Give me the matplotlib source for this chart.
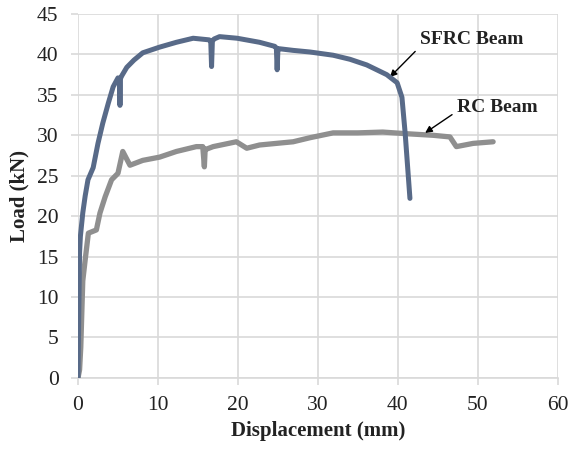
import matplotlib
matplotlib.use("Agg")
import matplotlib.pyplot as plt

plt.rcParams['font.family'] = ['Liberation Serif', 'DejaVu Serif']

sfrc_x = [0, 0.1, 0.2, 0.3, 0.6, 0.9, 1.25, 1.9, 2.5, 3.1, 3.8, 4.4, 5.0, 5.2, 5.25, 5.3, 5.5, 6.1, 7.0, 8.1, 10.2, 12.3, 14.4,
          16.4, 16.6, 16.7, 16.8, 17.0, 17.7, 19.9, 22.7, 24.6, 24.8, 24.9, 25.0, 25.2, 26.9, 29.0, 31.9, 34.0, 36.1,
          38.6, 39.9, 40.5, 40.9, 41.5]
sfrc_y = [0, 8, 15.5, 17.5, 20.4, 22.5, 24.5, 26.0, 29.0, 31.5, 34.0, 36.0, 37.1, 37.0, 33.7, 37.0, 37.4, 38.4, 39.3, 40.2, 40.9, 41.5, 42.0,
          41.8, 41.6, 38.5, 41.6, 41.9, 42.2, 42.0, 41.5, 41.0, 40.8, 38.1, 40.7, 40.7, 40.5, 40.3, 39.9, 39.4, 38.7,
          37.5, 36.5, 34.7, 30.3, 22.2]

rc_x = [0, 0.2, 0.35, 0.6, 0.9, 1.3, 2.3, 2.75, 3.4, 4.2, 5.0, 5.6, 6.5, 8.1, 10.2, 12.3, 14.8, 15.6, 15.8, 15.9, 16.1, 16.9,
        19.8, 21.1, 22.7, 26.9, 29.0, 31.9, 35.0, 38.1, 41.0, 44.4, 46.5, 47.3, 49.4, 51.9]
rc_y = [0, 1.0, 3.8, 12.0, 14.6, 17.9, 18.3, 20.4, 22.4, 24.5, 25.3, 28.0, 26.3, 26.9, 27.3, 28.0, 28.6, 28.6, 26.1, 28.3, 28.3, 28.6,
        29.2, 28.4, 28.8, 29.2, 29.7, 30.3, 30.3, 30.4, 30.2, 30.0, 29.8, 28.6, 29.0, 29.2]

x_ticks = [0, 10, 20, 30, 40, 50, 60]
y_ticks = [0, 5, 10, 15, 20, 25, 30, 35, 40, 45]

fig = plt.figure(figsize=(5.7, 4.51), dpi=100)
ax = fig.add_axes([0.1368, 0.162, 0.842, 0.807])

grid_c = '#d9d9d9'
text_c = '#222222'
ax.plot(rc_x, rc_y, color='#8f8f8f', lw=3.8, solid_joinstyle='round', solid_capstyle='round', zorder=3)
ax.plot(sfrc_x, sfrc_y, color='#586a88', lw=3.6, solid_joinstyle='round', solid_capstyle='round', zorder=4)

ax.set_xlim(0, 60)
ax.set_ylim(0, 45)
ax.set_xticks(x_ticks)
ax.set_yticks(y_ticks)
ax.grid(True, color=grid_c, lw=1.2, zorder=0)
ax.set_axisbelow(True)
for s in ['top', 'right', 'left']:
    ax.spines[s].set_visible(False)
ax.spines['bottom'].set_color(grid_c)
ax.spines['bottom'].set_linewidth(1.2)
ax.tick_params(axis='x', colors=grid_c, length=5, width=1.2, labelcolor=text_c, labelsize=15.5, pad=8)
ax.tick_params(axis='y', colors=grid_c, length=5, width=1.2, labelcolor=text_c, labelsize=15.5, pad=9)

ax.set_xlabel('Displacement (mm)', fontsize=15, fontweight='bold', color=text_c, labelpad=4)
ax.set_ylabel('Load (kN)', fontsize=15, fontweight='bold', color=text_c, labelpad=5)

ax.annotate('SFRC Beam', xy=(39.0, 37.2), xytext=(42.75, 41.8), fontsize=14, fontweight='bold',
            color=text_c, va='center', ha='left',
            arrowprops=dict(arrowstyle='-|>', color='black', lw=1.0, shrinkA=2, shrinkB=0, mutation_scale=10,
                            relpos=(0.0, 0.1)))
ax.annotate('RC Beam', xy=(43.4, 30.3), xytext=(47.4, 33.4), fontsize=14, fontweight='bold',
            color=text_c, va='center', ha='left',
            arrowprops=dict(arrowstyle='-|>', color='black', lw=1.0, shrinkA=2, shrinkB=0, mutation_scale=10,
                            relpos=(0.0, 0.3)))

fig.savefig('out.png', dpi=100)
